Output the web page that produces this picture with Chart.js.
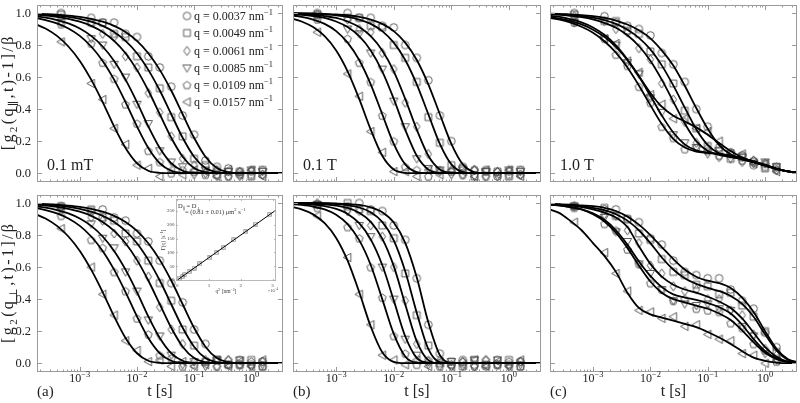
<!DOCTYPE html>
<html>
<head>
<meta charset="utf-8">
<title>g2 decays</title>
<script src="https://cdn.jsdelivr.net/npm/chart.js@4.4.1/dist/chart.umd.min.js"></script>
<style>
  html, body { margin: 0; padding: 0; background: #fff; }
  #wrap { position: relative; width: 800px; height: 403px; overflow: hidden; background: #fff; }
  #wrap canvas { position: absolute; }
</style>
</head>
<body>
<div id="wrap"></div>
<script>
// time grid of the fitted curves and of the measured points [s]
const tFit = [1.58e-4, 2.51e-4, 3.98e-4, 6.31e-4, 1.0e-3, 1.58e-3, 2.51e-3, 3.98e-3, 6.31e-3, 0.01, 0.0158, 0.0251,
  0.0398, 0.0631, 0.1, 0.158, 0.251, 0.398, 0.631, 1.0, 1.58, 2.51, 3.98];
const tData = [4.7e-4, 1.58e-3, 2.51e-3, 3.98e-3, 6.31e-3, 0.01, 0.0158, 0.0251, 0.0398, 0.0631, 0.1, 0.158,
  0.251, 0.398, 0.631, 1.0, 1.58];
const qLabels = ['0.0037', '0.0049', '0.0061', '0.0085', '0.0109', '0.0157'];
const yTicks = [0, 0.2, 0.4, 0.6, 0.8, 1.0];
const xDecades = [-4, -3, -2, -1, 0];

// rows: q = 0.0037, 0.0049, 0.0061, 0.0085, 0.0109, 0.0157
const fitParA = [
  [.995,.993,.99,.984,.976,.964,.946,.92,.882,.826,.749,.645,.516,.368,.221,.103,.032,.006,0,0,0,0,0],
  [.993,.99,.984,.976,.964,.946,.92,.882,.826,.749,.645,.516,.368,.221,.103,.032,.006,0,0,0,0,0,0],
  [.99,.984,.976,.964,.946,.92,.882,.826,.749,.645,.516,.368,.221,.103,.032,.006,0,0,0,0,0,0,0],
  [.98,.971,.956,.935,.903,.857,.791,.701,.584,.444,.292,.157,.062,.015,.002,0,0,0,0,0,0,0,0],
  [.971,.956,.935,.903,.857,.791,.701,.584,.444,.292,.157,.062,.015,.002,0,0,0,0,0,0,0,0,0],
  [.935,.903,.857,.791,.701,.584,.444,.292,.157,.062,.015,.002,0,0,0,0,0,0,0,0,0,0,0]
];
const datParA = [
  [1.0,.97,.94,.94,.87,.85,.73,.66,.54,.36,.24,.08,.04,.03,-.01,.01,-.01],
  [.99,.94,.94,.87,.85,.73,.66,.53,.35,.23,.09,.05,-.01,.01,.01,-.02,.02],
  [.97,.94,.87,.85,.73,.66,.50,.38,.23,.09,.05,0,.02,-.02,.01,.02,-.01],
  [.94,.84,.80,.68,.60,.43,.31,.14,.07,.04,-.01,.02,-.02,.01,-.02,.02,.01],
  [.93,.81,.69,.59,.43,.31,.14,.07,0,.02,.01,-.01,.02,-.02,.01,-.01,.02],
  [.82,.56,.46,.28,.18,.05,.03,-.02,.02,-.01,.02,.01,-.02,.02,-.01,.02,-.02]
];
const fitPerA = fitParA;
const datPerA = [
  [.98,.95,.96,.91,.89,.81,.76,.64,.50,.38,.21,.12,.02,-.01,.02,-.01,.01],
  [.98,.96,.91,.89,.81,.76,.64,.50,.39,.21,.11,.01,.02,-.01,-.01,.02,-.02],
  [.97,.91,.89,.81,.76,.64,.54,.35,.21,.12,.01,.02,-.02,.02,-.01,-.02,.01],
  [.95,.87,.78,.72,.57,.45,.27,.17,.05,-.01,.01,-.02,.02,-.01,.02,-.02,-.01],
  [.92,.77,.72,.57,.45,.28,.18,.05,.03,-.02,-.01,.01,-.02,.02,-.01,.01,-.02],
  [.84,.60,.43,.30,.14,.08,.01,.02,-.02,.01,-.02,-.01,.02,-.02,.01,-.02,.02]
];
const fitParB = [
  [.999,.998,.997,.995,.991,.986,.976,.959,.932,.887,.815,.707,.555,.368,.183,.055,.007,0,0,0,0,0,0],
  [.998,.997,.995,.991,.986,.976,.959,.932,.887,.815,.707,.555,.368,.183,.055,.007,0,0,0,0,0,0,0],
  [.996,.993,.989,.981,.969,.947,.912,.855,.766,.636,.464,.272,.109,.023,.002,0,0,0,0,0,0,0,0],
  [.993,.989,.981,.969,.947,.912,.855,.766,.636,.464,.272,.109,.023,.002,0,0,0,0,0,0,0,0,0],
  [.986,.976,.959,.932,.887,.815,.707,.555,.368,.183,.055,.007,0,0,0,0,0,0,0,0,0,0,0],
  [.969,.947,.912,.855,.766,.636,.464,.272,.109,.023,.002,0,0,0,0,0,0,0,0,0,0,0,0]
];
const datParB = [
  [1.0,1.0,.97,.97,.92,.91,.80,.72,.58,.36,.20,.04,.02,.02,-.02,.01,-.01],
  [.99,.97,.97,.92,.91,.80,.72,.57,.35,.19,.05,.03,-.02,.01,.01,-.02,.02],
  [.99,.96,.90,.88,.75,.65,.44,.29,.12,.01,.02,-.01,.02,-.02,.01,.02,-.01],
  [.97,.90,.87,.75,.65,.45,.29,.09,.03,.02,-.01,.02,-.02,.01,-.02,.02,.01],
  [.96,.84,.69,.57,.36,.20,.04,.02,-.02,.02,.01,-.01,.02,-.02,.01,-.01,.02],
  [.88,.62,.48,.26,.13,.01,.01,-.02,.02,-.01,.02,.01,-.02,.02,-.01,.02,-.02]
];
const fitPerB = [
  [1.0,1.0,1.0,.999,.997,.994,.988,.973,.942,.878,.751,.535,.255,.05,.001,0,0,0,0,0,0,0,0],
  [1.0,.999,.998,.997,.993,.986,.972,.942,.882,.767,.574,.314,.089,.006,0,0,0,0,0,0,0,0,0],
  [.999,.998,.996,.992,.984,.969,.939,.882,.778,.606,.368,.136,.019,0,0,0,0,0,0,0,0,0,0],
  [.997,.995,.99,.981,.963,.932,.874,.773,.613,.392,.168,.033,.002,0,0,0,0,0,0,0,0,0,0],
  [.994,.988,.978,.96,.927,.868,.768,.613,.40,.183,.042,.003,0,0,0,0,0,0,0,0,0,0,0],
  [.978,.96,.929,.874,.782,.64,.444,.229,.068,.008,0,0,0,0,0,0,0,0,0,0,0,0,0]
];
const datPerB = [
  [.99,.98,1.0,.96,.95,.86,.77,.53,.24,.06,-.01,.02,-.01,-.02,.02,-.01,.01],
  [.99,1.0,.96,.95,.86,.78,.56,.30,.11,0,.01,-.02,.02,-.01,-.01,.02,-.02],
  [1.0,.95,.95,.86,.79,.60,.39,.12,.01,.02,-.02,.01,-.02,.02,-.01,-.02,.01],
  [.99,.95,.86,.79,.60,.40,.15,.05,-.01,-.02,.01,-.02,.02,-.01,.02,-.02,-.01],
  [.97,.85,.78,.60,.41,.17,.06,-.01,.02,-.02,-.01,.01,-.02,.02,-.01,.01,-.02],
  [.92,.66,.43,.24,.05,.02,-.01,.02,-.02,.01,-.02,-.01,.02,-.02,.01,-.02,.02]
];
const fitParC = [
  [.997,.995,.991,.987,.98,.969,.953,.928,.892,.842,.767,.672,.546,.407,.277,.175,.118,.089,.069,.048,.027,.011,.002],
  [.995,.992,.988,.981,.971,.956,.932,.896,.845,.773,.673,.548,.409,.274,.175,.124,.103,.087,.069,.048,.027,.011,.002],
  [.993,.99,.983,.974,.96,.939,.908,.861,.794,.702,.584,.447,.31,.20,.139,.114,.101,.087,.069,.048,.027,.011,.002],
  [.977,.966,.951,.929,.896,.851,.788,.706,.603,.484,.361,.254,.18,.142,.128,.12,.109,.094,.074,.052,.029,.011,.003],
  [.972,.96,.942,.914,.877,.824,.753,.66,.548,.425,.307,.214,.16,.135,.127,.12,.109,.094,.074,.052,.029,.011,.003],
  [.985,.977,.962,.942,.91,.864,.798,.71,.607,.501,.415,.359,.323,.286,.24,.188,.138,.098,.071,.048,.027,.011,.002]
];
const datParC = [
  [1.0,.98,.94,.92,.90,.86,.75,.68,.57,.40,.29,.16,.13,.11,.05,.06,.02],
  [.99,.95,.95,.89,.87,.76,.68,.56,.39,.28,.17,.14,.09,.10,.07,.03,.04],
  [.98,.95,.90,.88,.78,.71,.56,.46,.32,.19,.16,.10,.12,.07,.08,.06,.02],
  [.94,.84,.80,.69,.62,.47,.38,.24,.19,.16,.12,.14,.09,.10,.06,.07,.04],
  [.94,.84,.74,.67,.54,.44,.29,.22,.15,.16,.14,.11,.13,.08,.08,.04,.04],
  [.95,.84,.81,.70,.63,.49,.43,.34,.34,.28,.26,.20,.12,.12,.06,.06,.01]
];
const fitPerC = [
  [.995,.993,.99,.985,.98,.97,.95,.915,.865,.80,.725,.65,.585,.54,.515,.50,.47,.41,.32,.20,.09,.025,.004],
  [.993,.99,.985,.98,.97,.955,.93,.89,.83,.75,.66,.585,.53,.495,.47,.45,.42,.37,.29,.18,.08,.02,.003],
  [.995,.99,.985,.975,.96,.94,.91,.85,.73,.62,.54,.49,.46,.44,.415,.385,.345,.28,.19,.10,.04,.01,.002],
  [.99,.985,.975,.96,.935,.895,.83,.74,.635,.545,.475,.43,.41,.395,.375,.35,.31,.24,.15,.075,.03,.008,.001],
  [.99,.985,.975,.96,.93,.885,.815,.72,.61,.51,.44,.40,.38,.36,.34,.31,.27,.205,.13,.065,.025,.006,.001],
  [.965,.94,.89,.83,.75,.67,.57,.44,.345,.305,.285,.265,.245,.225,.195,.16,.12,.075,.035,.015,.004,0,0]
];
const datPerC = [
  [.98,.96,.96,.90,.88,.78,.74,.64,.57,.55,.53,.53,.46,.39,.34,.19,.10],
  [.98,.97,.92,.90,.81,.77,.65,.57,.55,.49,.48,.43,.44,.36,.29,.20,.07],
  [.98,.93,.92,.83,.75,.61,.56,.48,.45,.46,.40,.40,.33,.30,.18,.09,.05],
  [.98,.91,.82,.76,.62,.56,.46,.39,.37,.36,.37,.34,.33,.23,.17,.06,.02],
  [.97,.87,.83,.71,.62,.50,.46,.39,.40,.34,.33,.32,.25,.22,.12,.08,.01],
  [.88,.69,.56,.45,.33,.32,.28,.29,.23,.24,.18,.15,.14,.06,.05,0,.02]
];

// inset: relaxation rate vs q^2 (q^2 in units of 1e-4 nm^-2)
const insetQ2 = [0.06, 0.15, 0.24, 0.37, 0.53, 0.71, 1.0, 1.23, 1.46, 1.78, 2.14, 2.47, 2.9];
const insetGamma = [6, 12, 20, 30, 43, 58, 80, 99, 118, 145, 174, 202, 236];
const insetLineQ2 = [0, 3.1];
const insetLineGamma = [0, 252];
const insetYTicks = [0, 50, 100, 150, 200, 250];
const insetXTicks = [0, 1, 2, 3];

const FONT = '"Liberation Serif", "Times New Roman", "DejaVu Serif", serif';
const INK = '#222';
const FRAME = '#9a9a9a';
const font = px => px + 'px ' + FONT;

// open markers as small images
function makeMarker(shape) {
  const c = document.createElement('canvas');
  c.width = c.height = 13;
  const g = c.getContext('2d');
  const m = 6.5;
  g.strokeStyle = '#4d4d4d'; g.lineWidth = 0.9;
  g.beginPath();
  if (shape === 'circle') g.arc(m, m, 3.8, 0, Math.PI * 2);
  else if (shape === 'square') g.rect(m - 3.4, m - 3.4, 6.8, 6.8);
  else if (shape === 'diamond') { g.moveTo(m, m - 4.6); g.lineTo(m + 3.2, m); g.lineTo(m, m + 4.6); g.lineTo(m - 3.2, m); g.closePath(); }
  else if (shape === 'down') { g.moveTo(m - 4.2, m - 3); g.lineTo(m + 4.2, m - 3); g.lineTo(m, m + 4.3); g.closePath(); }
  else if (shape === 'pentagon') {
    for (let k = 0; k < 5; k++) {
      const an = -Math.PI / 2 + k * 2 * Math.PI / 5;
      const px = m + 4 * Math.cos(an), py = m + 0.4 + 4 * Math.sin(an);
      if (k) g.lineTo(px, py); else g.moveTo(px, py);
    }
    g.closePath();
  } else { g.moveTo(m - 4.3, m); g.lineTo(m + 3.3, m - 4.2); g.lineTo(m + 3.3, m + 4.2); g.closePath(); }
  g.stroke();
  return c;
}
const markers = ['circle', 'square', 'diamond', 'down', 'pentagon', 'left'].map(makeMarker);
const insetMarker = (() => {
  const c = document.createElement('canvas');
  c.width = c.height = 5;
  const g = c.getContext('2d');
  g.strokeStyle = '#666'; g.lineWidth = 0.7;
  g.strokeRect(0.8, 0.8, 3.4, 3.4);
  return c;
})();

// text with sub/superscripts: parts = [[text, 0 | 1 (sup) | -1 (sub)], ...]
function rich(ctx, parts, x, y, size, align, sp) {
  sp = sp || 0;
  const items = [];
  parts.forEach(([t, m]) => {
    const s = m ? size * 0.7 : size;
    const dy = m === 1 ? -size * 0.4 : m === -1 ? size * 0.25 : 0;
    const chunks = sp ? [...t] : [t];
    chunks.forEach(ch => items.push({ ch, s, dy }));
  });
  let w = 0;
  items.forEach(it => { ctx.font = font(it.s); it.w = ctx.measureText(it.ch).width + sp; w += it.w; });
  w -= sp;
  let cx = align === 'center' ? x - w / 2 : align === 'right' ? x - w : x;
  items.forEach(it => { ctx.font = font(it.s); ctx.fillText(it.ch, cx, y + it.dy); cx += it.w; });
}

const titles = {
  par: [['[g', 0], ['2', -1], ['(q', 0], ['∥', -1], [',t)-1]/β', 0]],
  perp: [['[g', 0], ['2', -1], ['(q', 0], ['⊥', -1], [',t)-1]/β', 0]]
};
const legendY = [16, 33, 51, 68, 85, 102];

const framePlugin = {
  id: 'frame',
  afterDraw(chart, args, o) {
    const { ctx, chartArea: a, scales: { x, y } } = chart;
    ctx.save();
    ctx.strokeStyle = FRAME; ctx.lineWidth = 1;
    ctx.strokeRect(a.left + 0.5, a.top + 0.5, a.right - a.left - 1, a.bottom - a.top - 1);
    ctx.beginPath();
    yTicks.forEach(v => {
      const py = Math.round(y.getPixelForValue(v)) + 0.5;
      ctx.moveTo(a.left, py); ctx.lineTo(a.left + 5, py);
      ctx.moveTo(a.right, py); ctx.lineTo(a.right - 5, py);
    });
    xDecades.forEach(e => {
      for (let m = 1; m <= 9; m++) {
        const v = m * Math.pow(10, e);
        if (v <= x.min || v >= x.max) continue;
        const px = Math.round(x.getPixelForValue(v)) + 0.5;
        const len = m === 1 ? 5 : 2.5;
        ctx.moveTo(px, a.bottom); ctx.lineTo(px, a.bottom - len);
        ctx.moveTo(px, a.top); ctx.lineTo(px, a.top + len);
      }
    });
    ctx.stroke();

    ctx.fillStyle = INK;
    if (o.yLabels) {
      ctx.textAlign = 'right'; ctx.textBaseline = 'middle'; ctx.font = font(12.5);
      yTicks.forEach(v => ctx.fillText(v.toFixed(1), a.left - 6, y.getPixelForValue(v) + 0.5));
    }
    ctx.textAlign = 'left'; ctx.textBaseline = 'alphabetic';
    if (o.xLabels) {
      xDecades.forEach(e => {
        if (e < -3) return;
        rich(ctx, [['10', 0], [e === 0 ? '0' : '−' + (-e), 1]], x.getPixelForValue(Math.pow(10, e)), a.bottom + 10, 12, 'center');
      });
      rich(ctx, [['t [s]', 0]], (a.left + a.right) / 2, a.bottom + 24, 16, 'center');
      rich(ctx, [[o.letter, 0]], a.left, a.bottom + 24, 15, 'left');
    }
    if (o.title) {
      ctx.save();
      ctx.translate(13, (a.top + a.bottom) / 2);
      ctx.rotate(-Math.PI / 2);
      rich(ctx, titles[o.title], 0, 0, 16, 'center', 2.4);
      ctx.restore();
    }
    if (o.tag) rich(ctx, [[o.tag, 0]], a.left + 10, a.bottom - 12, 16, 'left');
    if (o.legend) {
      legendY.forEach((ly, i) => {
        ctx.drawImage(markers[i], 187 - 6.5, ly - 6.5);
        rich(ctx, [['q = ' + qLabels[i] + ' nm', 0], ['−1', 1]], 194, ly + 4, 12, 'left');
      });
    }
    ctx.restore();
  }
};

const wrap = document.getElementById('wrap');
function addCanvas(left, top, w, h) {
  const c = document.createElement('canvas');
  c.width = w; c.height = h;
  c.style.left = left + 'px'; c.style.top = top + 'px';
  c.style.width = w + 'px'; c.style.height = h + 'px';
  wrap.appendChild(c);
  return c;
}

function panel(p) {
  const datasets = [];
  p.fits.forEach(f => datasets.push({
    type: 'line', data: tFit.map((t, k) => ({ x: t, y: f[k] })),
    borderColor: '#000', borderWidth: 1.8, pointRadius: 0, fill: false,
    cubicInterpolationMode: 'monotone', order: 0
  }));
  p.pts.forEach((d, i) => datasets.push({
    type: 'scatter', data: tData.map((t, k) => ({ x: t, y: d[k] })),
    pointStyle: markers[i], pointRadius: 4, order: 1
  }));
  new Chart(addCanvas(p.left, p.top, p.w, 213), {
    type: 'scatter',
    data: { datasets },
    options: {
      responsive: false, animation: false, events: [],
      layout: { padding: { left: 37, top: 2, right: 4, bottom: 31 } },
      plugins: { legend: { display: false }, tooltip: { enabled: false }, frame: p.opt },
      scales: {
        x: { type: 'logarithmic', min: 1.78e-4, max: 3.6, display: false },
        y: { type: 'linear', min: -0.055, max: 1.05, display: false }
      }
    },
    plugins: [framePlugin]
  });
}

panel({ left: 0, top: 0, w: 288, fits: fitParA, pts: datParA, opt: { yLabels: true, title: 'par', tag: '0.1 mT', legend: true } });
panel({ left: 256, top: 0, w: 290, fits: fitParB, pts: datParB, opt: { tag: '0.1 T' } });
panel({ left: 513, top: 0, w: 289, fits: fitParC, pts: datParC, opt: { tag: '1.0 T' } });
panel({ left: 0, top: 190, w: 288, fits: fitPerA, pts: datPerA, opt: { yLabels: true, title: 'perp', xLabels: true, letter: '(a)' } });
panel({ left: 256, top: 190, w: 290, fits: fitPerB, pts: datPerB, opt: { xLabels: true, letter: '(b)' } });
panel({ left: 513, top: 190, w: 289, fits: fitPerC, pts: datPerC, opt: { xLabels: true, letter: '(c)' } });

// inset of panel (a), bottom row
const insetPlugin = {
  id: 'insetFrame',
  beforeDatasetsDraw(chart) {
    const { ctx, chartArea: a } = chart;
    ctx.save(); ctx.fillStyle = '#fff';
    ctx.fillRect(a.left, a.top, a.right - a.left, a.bottom - a.top);
    ctx.restore();
  },
  afterDraw(chart) {
    const { ctx, chartArea: a, scales: { x, y } } = chart;
    ctx.save();
    ctx.strokeStyle = '#aaa'; ctx.lineWidth = 0.8;
    ctx.strokeRect(a.left + 0.5, a.top + 0.5, a.right - a.left - 1, a.bottom - a.top - 1);
    ctx.beginPath();
    insetYTicks.forEach(v => {
      const py = Math.round(y.getPixelForValue(v)) + 0.5;
      ctx.moveTo(a.left, py); ctx.lineTo(a.left + 2, py);
      ctx.moveTo(a.right, py); ctx.lineTo(a.right - 2, py);
    });
    insetXTicks.forEach(v => {
      const px = Math.round(x.getPixelForValue(v)) + 0.5;
      ctx.moveTo(px, a.bottom); ctx.lineTo(px, a.bottom - 2);
      ctx.moveTo(px, a.top); ctx.lineTo(px, a.top + 2);
    });
    ctx.stroke();
    ctx.fillStyle = '#444';
    ctx.textAlign = 'right'; ctx.textBaseline = 'middle'; ctx.font = font(5);
    insetYTicks.forEach(v => ctx.fillText(String(v), a.left - 1.5, y.getPixelForValue(v)));
    ctx.textAlign = 'center'; ctx.textBaseline = 'alphabetic';
    insetXTicks.forEach(v => ctx.fillText(String(v), x.getPixelForValue(v), a.bottom + 6));
    ctx.textAlign = 'left';
    rich(ctx, [['q', 0], ['2', 1], [' [nm', 0], ['−2', 1], [']', 0]], (a.left + a.right) / 2, a.bottom + 12, 5.5, 'center');
    rich(ctx, [['×10', 0], ['−4', 1]], a.right - 3, a.bottom + 11, 4.5, 'center');
    ctx.save();
    ctx.translate(a.left - 11, (a.top + a.bottom) / 2);
    ctx.rotate(-Math.PI / 2);
    rich(ctx, [['Γ(q) [s', 0], ['−1', 1], [']', 0]], 0, 0, 5.5, 'center');
    ctx.restore();
    ctx.fillStyle = '#333';
    rich(ctx, [['D', 0], ['∥', -1], [' = D', 0], ['⊥', -1]], a.left + 2, a.top + 9, 6.5, 'left');
    rich(ctx, [['= (0.81 ± 0.01) μm', 0], ['2', 1], [' s', 0], ['−1', 1]], a.left + 9, a.top + 15, 6.5, 'left');
    ctx.restore();
  }
};

new Chart(addCanvas(158, 194, 123, 101), {
  type: 'scatter',
  data: {
    datasets: [
      { type: 'line', data: insetLineQ2.map((q, k) => ({ x: q, y: insetLineGamma[k] })),
        borderColor: '#000', borderWidth: 1, pointRadius: 0, order: 0 },
      { type: 'scatter', data: insetQ2.map((q, k) => ({ x: q, y: insetGamma[k] })),
        pointStyle: insetMarker, pointRadius: 2.5, order: 1 }
    ]
  },
  options: {
    responsive: false, animation: false, events: [],
    layout: { padding: { left: 18, top: 2, right: 4, bottom: 14 } },
    plugins: { legend: { display: false }, tooltip: { enabled: false } },
    scales: {
      x: { type: 'linear', min: -0.04, max: 3.11, display: false },
      y: { type: 'linear', min: -3.5, max: 293, display: false }
    }
  },
  plugins: [insetPlugin]
});
</script>
</body>
</html>
